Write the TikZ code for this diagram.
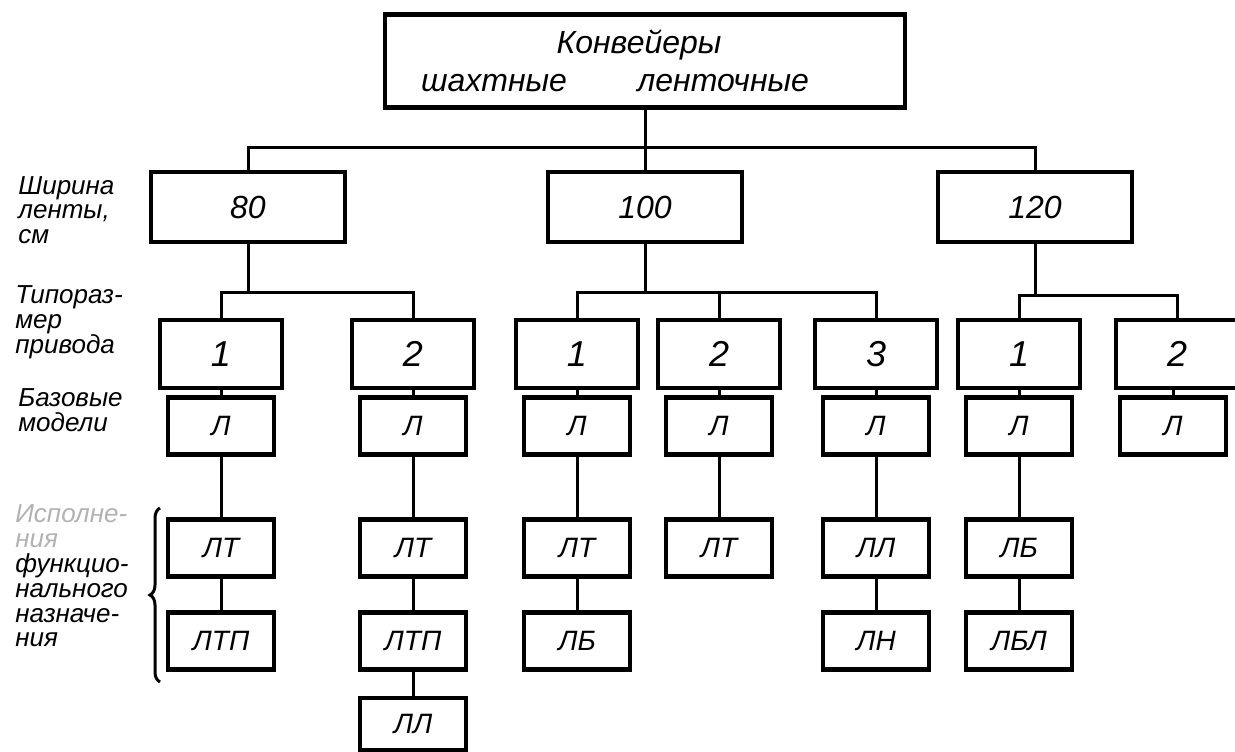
\documentclass[tikz,border=0pt]{standalone}
\usepackage{fontspec}
\setmainfont{Liberation Sans}
\usepackage{tikz}
\usetikzlibrary{positioning}
\usetikzlibrary{decorations.pathreplacing}

\tikzset{
  blk/.style={draw, line width=2.2pt, inner sep=0pt, font=\itshape\fontsize{16}{19}\selectfont},
  topblk/.style={blk, minimum width=260pt, minimum height=46.5pt, align=center},
  widthblk/.style={blk, minimum width=97pt, minimum height=35pt},
  sizeblk/.style={blk, minimum width=61pt, minimum height=34pt, font=\itshape\fontsize{18}{20}\selectfont},
  modelblk/.style={blk, minimum width=53pt, minimum height=28.5pt, font=\itshape\fontsize{14}{16}\selectfont},
  rowlabel/.style={anchor=west, align=left, inner sep=0pt, font=\itshape\fontsize{13}{12.4}\selectfont},
  link/.style={line width=1.5pt},
}

\begin{document}
\begin{tikzpicture}[x=0.5pt,y=-0.5pt]
\path[use as bounding box, clip] (0,0) rectangle (1235,751);

\node[topblk] (conv) at (645,61) {Конвейеры\hspace*{6pt}\\шахтные\hspace{2.2em}ленточные\hspace*{30pt}};

\node[widthblk] (w80) at (248,207) {80};
\node[widthblk] (w100) at (645,207) {100};
\node[widthblk] (w120) at (1035,207) {120};

\node[sizeblk] (t80a) at (221,354) {1};
\node[sizeblk] (t80b) at (413,354) {2};
\node[sizeblk] (t100a) at (577,354) {1};
\node[sizeblk] (t100b) at (719,354) {2};
\node[sizeblk] (t100c) at (876,354) {3};
\node[sizeblk] (t120a) at (1019,354) {1};
\node[sizeblk] (t120b) at (1177,354) {2};

\node[modelblk] (m80a) at (221,426) {Л};
\node[modelblk] (m80b) at (413,426) {Л};
\node[modelblk] (m100a) at (577,426) {Л};
\node[modelblk] (m100b) at (719,426) {Л};
\node[modelblk] (m100c) at (876,426) {Л};
\node[modelblk] (m120a) at (1019,426) {Л};
\node[modelblk] (m120b) at (1173,426) {Л};

\node[modelblk] (lt80a) at (221,548) {ЛТ};
\node[modelblk] (lt80b) at (413,548) {ЛТ};
\node[modelblk] (lt100a) at (577,548) {ЛТ};
\node[modelblk] (lt100b) at (719,548) {ЛТ};
\node[modelblk] (ll100c) at (876,548) {ЛЛ};
\node[modelblk] (lb120a) at (1019,548) {ЛБ};

\node[modelblk] (ltp80a) at (221,641) {ЛТП};
\node[modelblk] (ltp80b) at (413,641) {ЛТП};
\node[modelblk] (lb100a) at (577,641) {ЛБ};
\node[modelblk] (ln100c) at (876,641) {ЛН};
\node[modelblk] (lbl120a) at (1019,641) {ЛБЛ};

\node[modelblk, minimum height=26pt] (ll80b) at (413,724) {ЛЛ};

\coordinate (bar0) at (645,147);
\coordinate (bar80) at (248,292);
\coordinate (bar100) at (645,292);
\coordinate (bar120) at (1035,295);

\draw[link] (conv) -- (w100);
\draw[link] (w80.north) |- (bar0) -| (w120.north);

\draw[link] (w80) -- (bar80);
\draw[link] (t80a.north) |- (bar80) -| (t80b.north);
\draw[link] (w100) -- (bar100);
\draw[link] (t100a.north) |- (bar100) -| (t100c.north);
\draw[link] (t100b.north) -- (t100b.north |- bar100);
\draw[link] (w120) -- (bar120);
\draw[link] (t120a.north) |- (bar120) -| (t120b.north);

\draw[link] (t80a) -- (m80a) -- (lt80a) -- (ltp80a);
\draw[link] (t80b) -- (m80b) -- (lt80b) -- (ltp80b) -- (ll80b);
\draw[link] (t100a) -- (m100a) -- (lt100a) -- (lb100a);
\draw[link] (t100b) -- (m100b) -- (lt100b);
\draw[link] (t100c) -- (m100c) -- (ll100c) -- (ln100c);
\draw[link] (t120a) -- (m120a) -- (lb120a) -- (lbl120a);
\draw[link] (t120b.south -| m120b) -- (m120b);

\node[rowlabel] (lwidth) at (18,210) {Ширина\\ленты,\\см};
\node[rowlabel] (lsize) at (15,322) {Типораз-\\мер\\привода};
\node[rowlabel] (lbase) at (18,410) {Базовые\\модели};
\node[rowlabel] (lexec) at (15,576) {{\color{black!30}Исполне-}\\{\color{black!30}ния}\\функцио-\\нального\\назначе-\\ния};

\coordinate (brtop) at (160,508);
\coordinate (brbot) at (160,682);
\draw[link, decorate, decoration={brace, amplitude=5pt}] (brbot) -- (brtop);
\end{tikzpicture}
\end{document}
